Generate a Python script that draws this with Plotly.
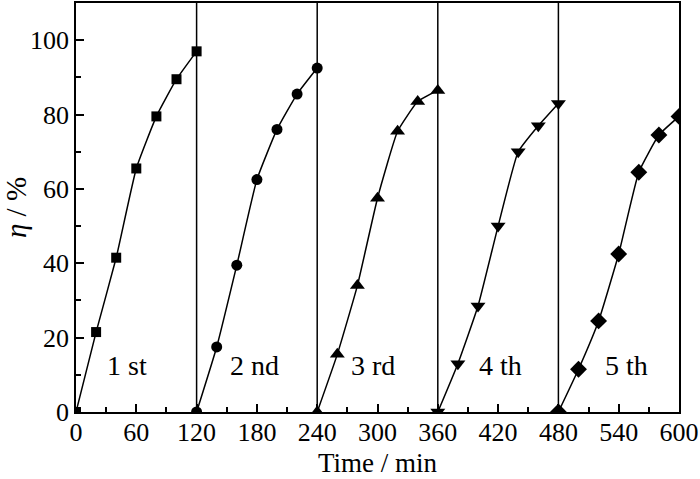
import plotly.graph_objects as go

# Data
time_1 = [0, 20, 40, 60, 80, 100, 120]
eta_1 = [0, 21.5, 41.5, 65.5, 79.5, 89.5, 97]
time_2 = [120, 140, 160, 180, 200, 220, 240]
eta_2 = [0, 17.5, 39.5, 62.5, 76, 85.5, 92.5]
time_3 = [240, 260, 280, 300, 320, 340, 360]
eta_3 = [0, 15.5, 34, 57.5, 75.5, 83.5, 86.5]
time_4 = [360, 380, 400, 420, 440, 460, 480]
eta_4 = [0, 13, 28.5, 50, 70, 77, 83]
time_5 = [480, 500, 520, 540, 560, 580, 600]
eta_5 = [0, 11.5, 24.5, 42.5, 64.5, 74.5, 79.5]

cycle_bounds = [120, 240, 360, 480]
cycle_labels = ["1 st", "2 nd", "3 rd", "4 th", "5 th"]
label_x = [51, 178, 296, 422, 548]
label_y = [12.5, 12.5, 12.5, 12.5, 12.5]
x_ticks = [0, 60, 120, 180, 240, 300, 360, 420, 480, 540, 600]
y_ticks = [0, 20, 40, 60, 80, 100]
x_title = "Time / min"
y_title = "<i>η</i> / %"

series = [
    (time_1, eta_1, "square", 10),
    (time_2, eta_2, "circle", 11),
    (time_3, eta_3, "triangle-up", 13),
    (time_4, eta_4, "triangle-down", 13),
    (time_5, eta_5, "diamond", 13),
]

FONT = "Liberation Serif"

fig = go.Figure()
for xs, ys, sym, sz in series:
    fig.add_trace(go.Scatter(
        x=xs, y=ys, mode="lines+markers",
        line=dict(color="black", width=1.5, shape="spline", smoothing=0.4),
        marker=dict(symbol=sym, size=sz, color="black"),
        showlegend=False,
    ))

for b in cycle_bounds:
    fig.add_shape(type="line", xref="x", yref="paper", x0=b, x1=b, y0=0, y1=1,
                  line=dict(color="black", width=1.5))

for lx, ly, t in zip(label_x, label_y, cycle_labels):
    fig.add_annotation(x=lx, y=ly, text=t, showarrow=False,
                       font=dict(family=FONT, size=28, color="black"))

# x-axis title placed below the tick labels, flush with the bottom edge
fig.add_annotation(x=0.5, y=0, xref="paper", yref="paper", yanchor="bottom",
                   yshift=-67, text=x_title, showarrow=False, borderpad=0,
                   font=dict(family=FONT, size=27, color="black"))

axis_common = dict(
    showline=True, linecolor="black", linewidth=1.5, mirror=True,
    ticks="inside", ticklen=8, tickwidth=1.5, tickcolor="black",
    showgrid=False, zeroline=False,
    tickfont=dict(family=FONT, size=26, color="black"),
)

fig.update_xaxes(range=[0, 600], tickvals=x_ticks, ticklabelstandoff=-4,
                 minor=dict(dtick=30, ticks="inside", ticklen=5, tickwidth=1.5, tickcolor="black"),
                 **axis_common)
fig.update_yaxes(range=[0, 110], tickvals=y_ticks,
                 minor=dict(dtick=10, ticks="inside", ticklen=5, tickwidth=1.5, tickcolor="black"),
                 title=dict(text=y_title, font=dict(family=FONT, size=29, color="black")),
                 **axis_common)

fig.update_layout(
    width=700, height=479,
    margin=dict(l=76, r=21, t=3, b=67, autoexpand=False),
    plot_bgcolor="white", paper_bgcolor="white",
)

fig.write_html("out.html", config={"displayModeBar": False},
               post_script="document.body.style.margin='0';")
